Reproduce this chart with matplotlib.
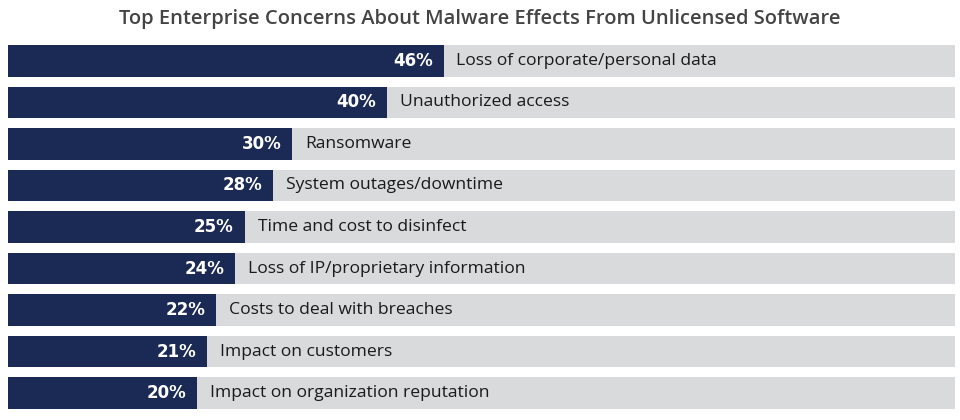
import matplotlib.pyplot as plt

# data
categories = [
    "Loss of corporate/personal data",
    "Unauthorized access",
    "Ransomware",
    "System outages/downtime",
    "Time and cost to disinfect",
    "Loss of IP/proprietary information",
    "Costs to deal with breaches",
    "Impact on customers",
    "Impact on organization reputation",
]
values = [46, 40, 30, 28, 25, 24, 22, 21, 20]

navy = "#1a2a55"
gray = "#d9dadc"

plt.rcParams['font.family'] = ['Open Sans', 'DejaVu Sans']

fig = plt.figure(figsize=(9.6, 4.2), dpi=100)
ax = fig.add_axes([8 / 960, 1 - 409 / 420, 947 / 960, 364 / 420])

pos = list(range(len(categories)))
# gray track = 100%, navy = share of respondents
ax.barh(pos, [100] * len(values), height=0.77, color=gray)
ax.barh(pos, values, height=0.77, color=navy)

for i, (v, c) in enumerate(zip(values, categories)):
    ax.text(v - 1.15, i, f"{v}%", ha="right", va="center",
            color="white", fontsize=12, fontweight="bold",
            family=["DejaVu Sans"])
    ax.text(v + 1.35, i, c, ha="left", va="center",
            color="#1a1a1a", fontsize=12.6)

ax.set_xlim(0, 100)
ax.set_ylim(len(values) - 1 + 0.385, -0.385)
ax.axis("off")

fig.text(0.5, 1 - 19 / 420, "Top Enterprise Concerns About Malware Effects From Unlicensed Software",
         ha="center", va="center", fontsize=14.5, fontweight="semibold", color="#444444")

plt.savefig("out.png", dpi=100)
plt.close()
